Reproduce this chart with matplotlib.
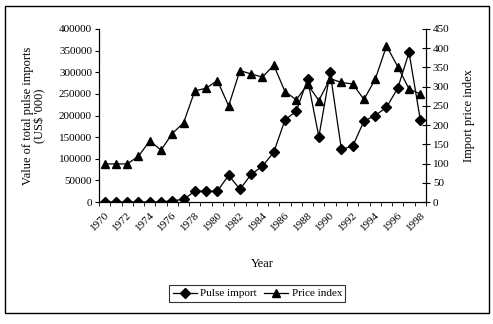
import matplotlib
matplotlib.use("Agg")
import matplotlib.pyplot as plt
from matplotlib.patches import Rectangle

plt.rcParams["font.family"] = ["Liberation Serif", "DejaVu Serif"]
plt.rcParams["font.size"] = 8

years = list(range(1970, 1999))
pulse_import = [0, 0, 0, 0, 0, 0, 3000, 6000, 25000, 25000, 25000, 62000, 29500,
                64000, 83000, 115000, 190000, 210000, 284000, 151000, 300000,
                122000, 129000, 187000, 200000, 219000, 263000, 346000, 190000]
price_index = [99, 99, 99, 119, 159, 135, 178, 206, 289, 296, 316, 250, 342,
               333, 325, 356, 287, 266, 306, 264, 321, 311, 307, 267, 319,
               406, 352, 294, 281]
year_labels = [str(y) for y in years[::2]]

fig = plt.figure(figsize=(4.93, 3.24), dpi=100)
ax = fig.add_axes([0.2008, 0.3765, 0.6632, 0.534])
ax2 = ax.twinx()

x = list(range(len(years)))
ax.plot(x, pulse_import, color="black", lw=0.9, marker="D", ms=4.6, label="Pulse import")
ax2.plot(x, price_index, color="black", lw=0.9, marker="^", ms=6, label="Price index")

ax.set_xlim(-0.5, len(years) - 0.5)
ax.set_ylim(0, 400000)
ax2.set_ylim(0, 450)
ax.set_yticks(range(0, 400001, 50000))
ax2.set_yticks(range(0, 451, 50))

ax.set_xticks(x[::2])
ax.set_xticklabels(year_labels, rotation=45, ha="right", rotation_mode="anchor")
ax.set_xticks([i - 0.5 for i in range(len(years) + 1)], minor=True)
ax.tick_params(axis="x", which="major", length=0, pad=6)
ax.tick_params(axis="x", which="minor", length=3, direction="out")
ax.tick_params(axis="y", length=3, direction="out", pad=2)
ax2.tick_params(axis="y", length=6, direction="inout", pad=2)

for a in (ax, ax2):
    a.spines["top"].set_visible(False)
    for s in a.spines.values():
        s.set_linewidth(0.8)

ax.set_xlabel("Year", labelpad=18, fontsize=9)
ax.set_ylabel("Value of total pulse imports\n(US$ '000)", labelpad=9,
              linespacing=1.0, fontsize=9)
ax2.set_ylabel("Import price index", labelpad=10, fontsize=9)

h1, l1 = ax.get_legend_handles_labels()
h2, l2 = ax2.get_legend_handles_labels()
leg = fig.legend(h1 + h2, l1 + l2, loc="center", bbox_to_anchor=(0.522, 0.094),
                 ncol=2, frameon=True, fancybox=False, edgecolor="black",
                 handlelength=2.2, handletextpad=0.3, columnspacing=0.6,
                 borderpad=0.3, fontsize=8)
leg.get_frame().set_linewidth(0.8)

fig.patches.append(Rectangle((5 / 493, 1 - 313 / 324), 484 / 493, 307 / 324,
                             transform=fig.transFigure, fill=False,
                             edgecolor="black", linewidth=1.0))

fig.savefig("out.png", dpi=100)
